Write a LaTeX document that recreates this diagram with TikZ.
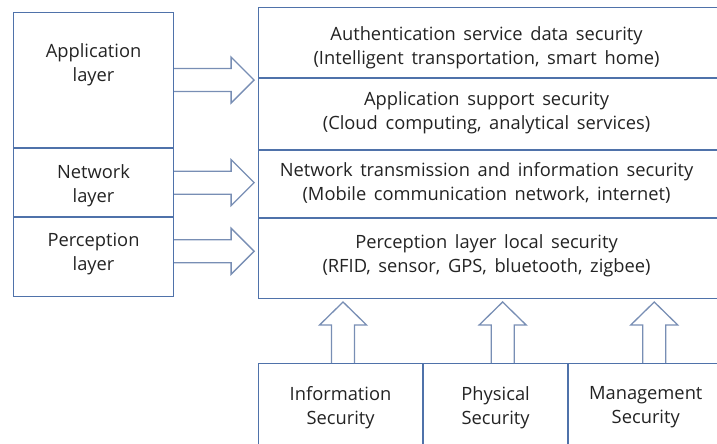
\documentclass[tikz,border=0pt]{standalone}
\usepackage{fontspec}
\setmainfont{Open Sans}[WordSpace=1.6]
\usetikzlibrary{positioning, calc}

\definecolor{boxline}{RGB}{79,114,170}
\definecolor{arrline}{RGB}{120,142,180}
\definecolor{txt}{RGB}{35,35,35}

\newcommand{\rightarr}[1]{\draw[arr] ($#1+(0,-11.5)$) -- ++(57,0) -- ++(0,-11.5) -- ++(23,23) -- ++(-23,23) -- ++(0,-11.5) -- ++(-57,0);}
\newcommand{\uparr}[1]{\draw[arr] ($#1+(-11.5,0)$) -- ++(0,-38) -- ++(-12,0) -- ++(23.5,-23) -- ++(23.5,23) -- ++(-12,0) -- ++(0,38);}

\begin{document}
\begin{tikzpicture}[x=1pt, y=-1pt,
    every node/.style={text=txt, font=\fontsize{18.3}{24}\selectfont, align=center},
    box/.style={draw=boxline, line width=1.1pt, rectangle, inner sep=0pt},
    arr/.style={draw=arrline, line width=1.3pt, line join=miter}]
    \useasboundingbox (0,0) rectangle (717,444);

    % Layers (left)
    \node (app) [box, anchor=north west, minimum width=160pt, minimum height=135pt] at (13,12) {};
    \node (net) [box, below=0pt of app, minimum width=160pt, minimum height=68pt] {};
    \node (per) [box, below=0pt of net, minimum width=160pt, minimum height=79pt] {};
    \node (applbl) at ($(app.north)+(0,53)$) {Application\\layer};
    \node (netlbl) at ($(net)+(0,3)$) {Network\\layer};
    \node (perlbl) at ($(per)+(0,-3)$) {Perception\\layer};

    % Security (right)
    \node (auth) [box, anchor=north west, minimum width=462pt, minimum height=70pt] at (258,7) {};
    \node (supp) [box, below=0pt of auth, minimum width=462pt, minimum height=71pt] {};
    \node (trans) [box, below=0pt of supp, minimum width=462pt, minimum height=67pt] {};
    \node (local) [box, below=0pt of trans, minimum width=462pt, minimum height=80pt] {};
    \node (authlbl) at ($(auth)+(-3,5)$) {Authentication service data security\\(Intelligent transportation, smart home)};
    \node (supplbl) at ($(supp)+(-3,-1)$) {Application support security\\(Cloud computing, analytical services)};
    \node (translbl) at ($(trans)+(-3,-1)$) {Network transmission and information security\\(Mobile communication network, internet)};
    \node (locallbl) at ($(local)+(-3,-3)$) {Perception layer local security\\(RFID, sensor, GPS, bluetooth, zigbee)};

    % Bottom
    \node (info) [box, anchor=north west, minimum width=164pt, minimum height=88pt] at (258,363) {Information\\Security};
    \node (phys) [box, right=0pt of info, minimum width=144pt, minimum height=88pt] {Physical\\Security};
    \node (mgmt) [box, right=0pt of phys, minimum width=154pt, minimum height=88pt] {Management\\Security};

    % Arrows
    \rightarr{(app.east)}
    \rightarr{(net.east)}
    \rightarr{($(per.east)+(0,-6)$)}
    \uparr{($(info.north)+(2.5,0)$)}
    \uparr{($(phys.north)+(7,0)$)}
    \uparr{($(mgmt.north)+(8.5,0)$)}
\end{tikzpicture}
\end{document}
